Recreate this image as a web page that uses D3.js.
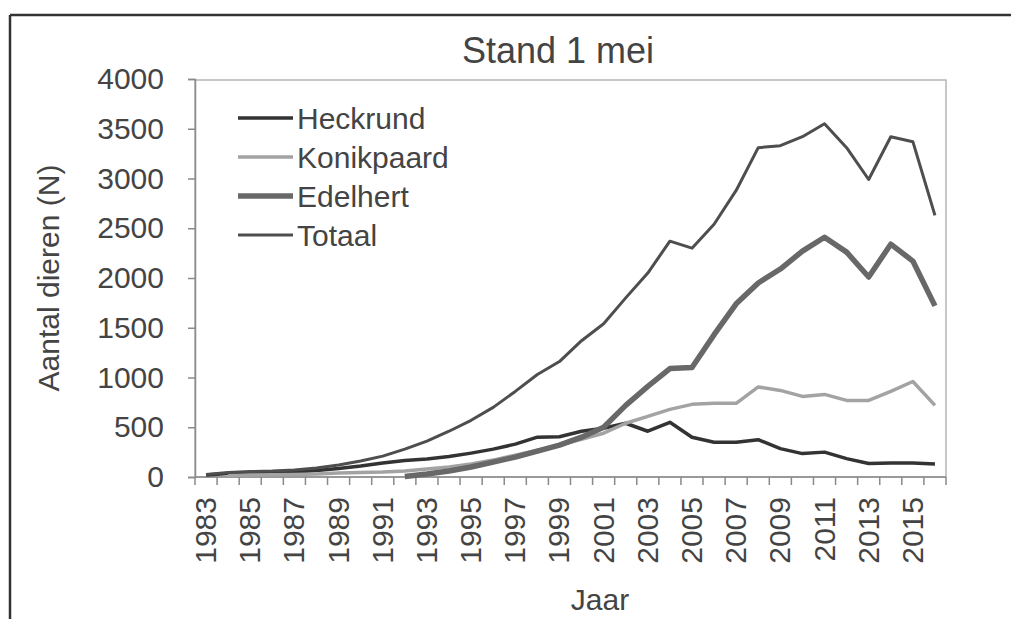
<!DOCTYPE html>
<html>
<head>
<meta charset="utf-8">
<script src="https://cdn.jsdelivr.net/npm/d3@7"></script>
<style>
  body { margin: 0; background: #fff; }
  text { font-family: "Liberation Sans", Arial, sans-serif; fill: #444; }
</style>
</head>
<body>
<div id="viz"></div>
<script>
// data (stand 1 mei)
var years = d3.range(1983, 2017);
var heckrund = [20, 35, 40, 45, 50, 65, 85, 110, 140, 165, 180, 205, 240, 280, 330, 400, 405, 460, 490, 540, 460, 550, 400, 350, 350, 375, 285, 235, 250, 185, 135, 140, 140, 130];
var konikpaard = [null, 15, 20, 22, 25, 30, 40, 45, 50, 60, 80, 100, 130, 170, 220, 270, 320, 380, 440, 540, 610, 680, 730, 740, 740, 905, 870, 810, 830, 770, 770, 860, 960, 720];
var edelhert = [null, null, null, null, null, null, null, null, null, 5, 30, 60, 100, 150, 200, 260, 320, 400, 500, 720, 910, 1090, 1100, 1430, 1740, 1950, 2090, 2270, 2410, 2260, 2010, 2340, 2170, 1720];
var totaal = [25, 45, 55, 60, 70, 90, 120, 160, 210, 280, 360, 460, 570, 700, 860, 1030, 1160, 1370, 1540, 1800, 2050, 2370, 2300, 2540, 2880, 3310, 3330, 3420, 3550, 3310, 2990, 3420, 3370, 2630];
var yTicks = [0, 500, 1000, 1500, 2000, 2500, 3000, 3500, 4000];
var xLabels = d3.range(1983, 2017, 2);

var series = [
  {name: "Heckrund", values: heckrund, color: "#333333", width: 3.5},
  {name: "Konikpaard", values: konikpaard, color: "#a3a3a3", width: 3.5},
  {name: "Edelhert", values: edelhert, color: "#686868", width: 5.5},
  {name: "Totaal", values: totaal, color: "#4e4e4e", width: 3}
];

var W = 1011, H = 619;
var plot = {left: 195, right: 946, top: 80, bottom: 477};

var svg = d3.select("#viz")
  .append("svg")
    .attr("width", W)
    .attr("height", H);

// scanned page border
svg.append("line").attr("x1", 10).attr("x2", W).attr("y1", 15).attr("y2", 15)
  .attr("stroke", "#333").attr("stroke-width", 2.5);
svg.append("line").attr("x1", 10).attr("x2", 10).attr("y1", 15).attr("y2", H)
  .attr("stroke", "#333").attr("stroke-width", 2.5);

// scales
var x = d3.scaleBand()
    .domain(years)
    .range([plot.left, plot.right])
    .padding(0);
var cx = function(yr) { return x(yr) + x.bandwidth() / 2; };

var y = d3.scaleLinear()
    .domain([0, 4000])
    .range([plot.bottom, 79]);

// plot area border
svg.append("rect")
    .attr("x", plot.left).attr("y", plot.top)
    .attr("width", plot.right - plot.left).attr("height", plot.bottom - plot.top)
    .attr("fill", "none").attr("stroke", "#b5b5b5").attr("stroke-width", 1.5);

// Y axis
var yAxis = svg.append("g")
    .attr("transform", "translate(" + plot.left + ",0)")
    .call(d3.axisLeft(y).tickValues(yTicks).tickSize(7).tickPadding(24).tickFormat(d3.format("d")));
yAxis.select(".domain").attr("stroke", "#8a8a8a").attr("stroke-width", 1.5);
yAxis.selectAll(".tick line").attr("stroke", "#8a8a8a").attr("stroke-width", 1.5);
yAxis.selectAll("text")
    .style("font-size", "30px")
    .attr("fill", "#444");

// X axis: ticks between categories, labels every other year
var xAxis = svg.append("g");
xAxis.append("line")
    .attr("x1", plot.left).attr("x2", plot.right)
    .attr("y1", plot.bottom).attr("y2", plot.bottom)
    .attr("stroke", "#8a8a8a").attr("stroke-width", 1.5);
xAxis.selectAll(".xtick")
    .data(years.concat([null]))
    .enter()
    .append("line")
    .attr("x1", function(d) { return d === null ? plot.right : x(d); })
    .attr("x2", function(d) { return d === null ? plot.right : x(d); })
    .attr("y1", plot.bottom)
    .attr("y2", plot.bottom + 8)
    .attr("stroke", "#8a8a8a").attr("stroke-width", 1.5);
xAxis.selectAll(".xlabel")
    .data(xLabels)
    .enter()
    .append("text")
    .attr("transform", function(d) { return "translate(" + (cx(d) + 10) + "," + (plot.bottom + 20) + ") rotate(-90)"; })
    .attr("text-anchor", "end")
    .style("font-size", "30px")
    .text(function(d) { return d; });

// lines
var line = d3.line()
    .defined(function(d) { return d[1] !== null; })
    .x(function(d) { return cx(d[0]); })
    .y(function(d) { return y(d[1]); });

svg.selectAll(".serie")
    .data(series)
    .enter()
    .append("path")
    .attr("d", function(s) { return line(years.map(function(yr, i) { return [yr, s.values[i]]; })); })
    .attr("fill", "none")
    .attr("stroke", function(s) { return s.color; })
    .attr("stroke-width", function(s) { return s.width; })
    .attr("stroke-linejoin", "round");

// legend
var legend = svg.selectAll(".legend")
    .data(series)
    .enter()
    .append("g")
    .attr("transform", function(d, i) { return "translate(238," + (118 + i * 39) + ")"; });
legend.append("line")
    .attr("x1", 0).attr("x2", 55).attr("y1", 0).attr("y2", 0)
    .attr("stroke", function(d) { return d.color; })
    .attr("stroke-width", function(d) { return d.width; });
legend.append("text")
    .attr("x", 59).attr("y", 0).attr("dy", "0.36em")
    .style("font-size", "30px")
    .text(function(d) { return d.name; });

// titles
svg.append("text")
    .attr("x", 558).attr("y", 63)
    .attr("text-anchor", "middle")
    .style("font-size", "36px")
    .text("Stand 1 mei");

svg.append("text")
    .attr("transform", "translate(48,278) rotate(-90)")
    .attr("text-anchor", "middle")
    .attr("dy", "0.36em")
    .style("font-size", "30px")
    .text("Aantal dieren (N)");

svg.append("text")
    .attr("x", 600).attr("y", 610)
    .attr("text-anchor", "middle")
    .style("font-size", "30px")
    .text("Jaar");
</script>
</body>
</html>
